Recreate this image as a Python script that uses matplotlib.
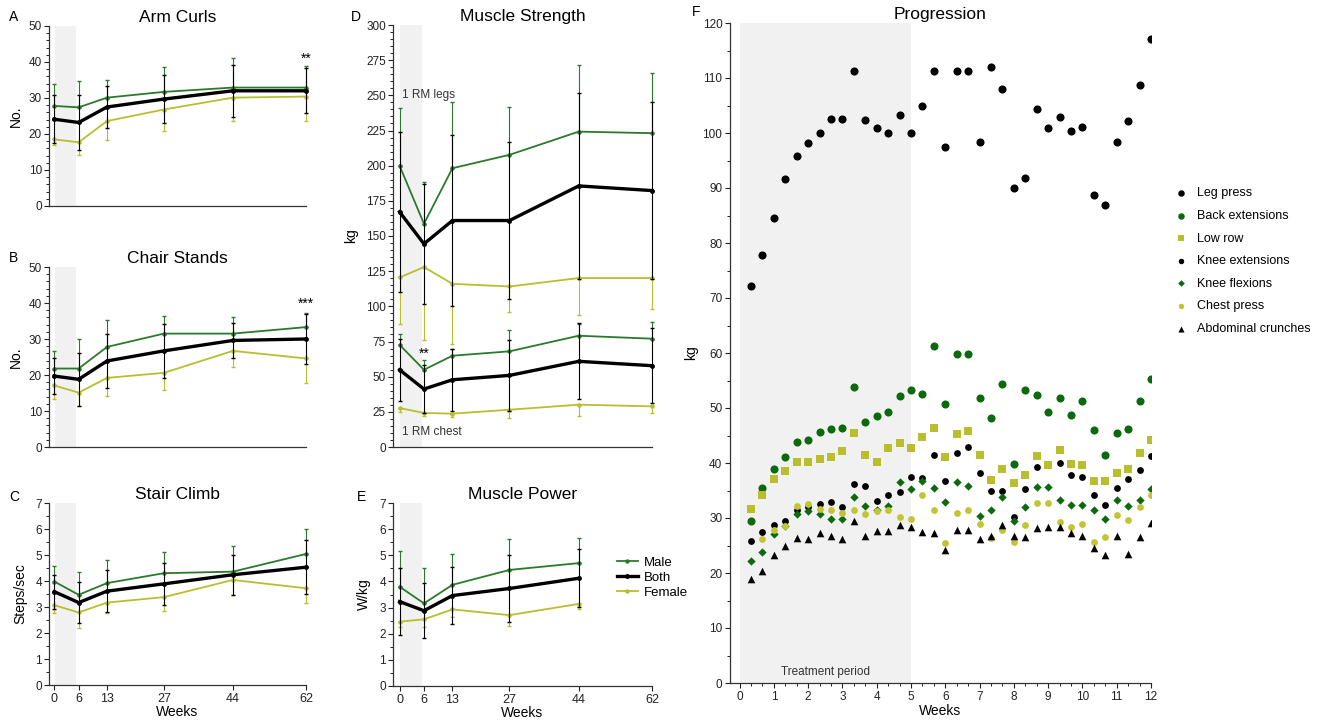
import numpy as np
import matplotlib.pyplot as plt
from matplotlib.lines import Line2D
from matplotlib.ticker import MultipleLocator

plt.rcParams['font.family'] = ['Liberation Sans', 'DejaVu Sans']

W, H = 1335, 723

GREEN = '#2b7a2b'
YELLOW = '#b9be2e'
DARK_GREEN = '#0b6a0b'
SHADE = '#f1f1f1'

WEEKS = [0, 6, 13, 27, 44, 62]
WEEK_LABELS = ['0', '6', '13', '27', '44', '62']

# A - arm curls (No.)
ARM_MALE = [27.8, 27.4, 30.1, 31.7, 32.9, 32.9]
ARM_MALE_SD = [6.2, 7.4, 4.9, 7.0, 8.3, 6.1]
ARM_BOTH = [24.1, 23.2, 27.5, 29.7, 32.0, 32.0]
ARM_BOTH_SD = [6.6, 7.6, 5.8, 6.7, 7.3, 6.3]
ARM_FEMALE = [18.5, 17.7, 23.6, 26.8, 30.1, 30.4]
ARM_FEMALE_SD = [1.6, 3.4, 5.3, 6.0, 6.4, 6.7]

# B - chair stands (No.)
CHAIR_MALE = [21.8, 21.8, 27.8, 31.5, 31.5, 33.3]
CHAIR_MALE_SD = [4.9, 8.3, 7.4, 5.0, 4.6, 4.0]
CHAIR_BOTH = [19.7, 18.8, 23.9, 26.7, 29.6, 30.0]
CHAIR_BOTH_SD = [5.0, 7.3, 7.6, 7.4, 4.9, 7.0]
CHAIR_FEMALE = [17.1, 15.1, 19.2, 20.6, 26.7, 24.6]
CHAIR_FEMALE_SD = [3.7, 3.8, 5.0, 4.9, 4.5, 6.8]

# C - stair climb (steps/sec)
STAIR_MALE = [3.98, 3.47, 3.92, 4.30, 4.36, 5.04]
STAIR_MALE_SD = [0.58, 0.87, 0.87, 0.81, 0.97, 0.95]
STAIR_BOTH = [3.59, 3.17, 3.61, 3.89, 4.24, 4.53]
STAIR_BOTH_SD = [0.65, 0.80, 0.80, 0.82, 0.77, 1.04]
STAIR_FEMALE = [3.07, 2.79, 3.17, 3.38, 4.04, 3.72]
STAIR_FEMALE_SD = [0.31, 0.58, 0.41, 0.53, 0.57, 0.58]

# D - muscle strength, 1 RM legs (kg)
LEGS_MALE = [200.1, 158.7, 198.2, 207.7, 224.2, 223.1]
LEGS_MALE_SD = [41.2, 30.0, 47.4, 34.3, 47.4, 43.1]
LEGS_BOTH = [167.2, 144.4, 161.0, 161.0, 185.6, 182.3]
LEGS_BOTH_SD = [57.0, 42.6, 61.0, 55.9, 66.0, 63.0]
LEGS_FEMALE = [120.5, 127.9, 116.0, 114.1, 120.1, 120.1]
LEGS_FEMALE_SD = [33.1, 52.1, 42.6, 18.2, 26.1, 22.1]

# D - muscle strength, 1 RM chest (kg)
CHEST_MALE = [72.7, 54.9, 64.9, 68.0, 79.1, 77.0]
CHEST_MALE_SD = [7.6, 6.7, 4.7, 15.4, 8.5, 11.8]
CHEST_BOTH = [54.9, 41.2, 47.8, 50.9, 60.9, 57.8]
CHEST_BOTH_SD = [22.0, 17.0, 22.0, 25.0, 27.0, 26.6]
CHEST_FEMALE = [27.7, 24.2, 23.7, 26.5, 30.1, 28.9]
CHEST_FEMALE_SD = [3.1, 2.4, 2.4, 5.9, 8.3, 4.7]

# E - muscle power (W/kg), measured up to week 44
POWER_WEEKS = [0, 6, 13, 27, 44]
POWER_MALE = [3.80, 3.16, 3.87, 4.44, 4.70]
POWER_MALE_SD = [1.37, 1.35, 1.19, 1.18, 0.98]
POWER_BOTH = [3.23, 2.88, 3.46, 3.73, 4.12]
POWER_BOTH_SD = [1.27, 1.06, 1.08, 1.27, 1.11]
POWER_FEMALE = [2.46, 2.55, 2.93, 2.71, 3.14]
POWER_FEMALE_SD = [0.20, 0.30, 0.30, 0.41, 0.20]

# F - progression (kg), sessions every 1/3 week
SESSIONS = np.arange(1, 37) / 3
LEG_PRESS = [72.1, 77.9, 84.5, 91.6, 95.9, 98.2, 100.0, 102.5, 102.5, 111.3,
             102.3, 101.0, 100.0, 103.3, 100.0, 105.0, 111.3, 97.5, 111.3,
             111.3, 98.3, 112.0, 108.0, 90.0, 91.9, 104.3, 101.0, 102.9,
             100.4, 101.1, 88.8, 87.0, 98.3, 102.2, 108.7, 117.1]
BACK_EXT = [29.5, 35.4, 38.9, 41.1, 43.9, 44.1, 45.7, 46.2, 46.4, 53.8,
            47.5, 48.6, 49.2, 52.1, 53.2, 52.5, 61.2, 50.7, 59.9, 59.9,
            51.8, 48.2, 54.4, 39.9, 53.2, 52.4, 49.2, 51.8, 48.7, 51.2,
            46.0, 41.5, 45.5, 46.2, 51.3, 55.3]
LOW_ROW = [31.7, 34.1, 37.1, 38.5, 40.2, 40.1, 40.8, 41.1, 42.1, 45.5,
           41.5, 40.2, 42.7, 43.7, 42.7, 44.7, 46.4, 41.1, 45.3, 45.8,
           41.5, 37.0, 39.0, 36.3, 37.9, 41.3, 39.6, 42.4, 39.9, 39.6,
           36.8, 36.8, 38.1, 39.0, 41.8, 44.1]
KNEE_EXT = [25.8, 27.5, 28.7, 29.5, 31.5, 32.0, 32.6, 33.0, 32.0, 36.2,
            35.8, 33.1, 34.2, 34.7, 37.4, 37.2, 41.4, 36.7, 41.9, 42.9,
            38.2, 34.9, 34.9, 30.2, 35.3, 39.2, np.nan, 40.0, 37.9, 37.4,
            34.1, 32.4, 35.4, 37.1, 38.7, 41.3]
KNEE_FLEX = [22.1, 23.8, 27.1, 28.5, 30.8, 31.2, 30.8, 29.9, 29.9, 33.9,
             32.1, 31.5, 32.2, 36.5, 35.2, 36.8, 35.4, 33.0, 36.5, 35.9,
             30.3, 31.5, 33.9, 29.5, 32.0, 35.6, 35.7, 33.3, 32.4, 32.4,
             31.5, 29.8, 33.3, 32.1, 33.3, 35.2]
CHEST_PRESS = [np.nan, 26.1, 27.8, 28.5, 32.1, 32.5, 31.7, 31.4, 30.9, 31.4,
               30.8, 31.2, 31.4, 30.2, 29.9, 34.1, 31.4, 25.5, 30.9, 31.4,
               29.0, 26.4, 27.8, 25.6, 28.8, 32.7, 32.8, 29.2, 28.4, 29.0,
               25.7, 26.6, 30.5, 29.6, 32.0, 34.1]
CRUNCHES = [18.9, 20.4, 23.2, 25.0, 26.4, 26.2, 27.2, 26.8, 26.2, 29.5,
            26.7, 27.6, 27.6, 28.7, 28.4, 27.5, 27.3, 24.2, 27.8, 27.8,
            26.1, 26.8, 28.8, 26.7, 26.5, 28.1, 28.3, 28.4, 27.3, 26.8,
            24.5, 23.3, 26.7, 23.5, 26.5, 29.1]


def px_axes(fig, left, top, right, bottom):
    """Add axes from a pixel box measured from the top left corner."""
    return fig.add_axes([left / W, 1 - bottom / H,
                         (right - left) / W, (bottom - top) / H])


def style_axes(ax, show_x):
    """Spines, ticks and the shaded treatment period for panels A-E."""
    for side in ('top', 'right'):
        ax.spines[side].set_visible(False)
    for side in ('left', 'bottom'):
        ax.spines[side].set_linewidth(0.9)
        ax.spines[side].set_color('#333333')
    ax.axvspan(0.2, 5.4, color=SHADE, zorder=0, lw=0)
    ax.tick_params(axis='y', labelsize=8.5, length=3.5, width=0.8,
                   pad=1.5, colors='#222222')
    ax.tick_params(axis='y', which='minor', length=2, width=0.6)
    if show_x:
        ax.set_xticks(WEEKS)
        ax.set_xticklabels(WEEK_LABELS)
        ax.tick_params(axis='x', labelsize=9, length=3.5, width=0.8,
                       pad=2, colors='#222222')
        ax.set_xlabel('Weeks', fontsize=10, labelpad=0)
    else:
        ax.set_xticks([])


def unclip(container):
    """Let error bars at the last week reach past the axes edge."""
    for child in container.get_children():
        child.set_clip_on(False)


def plot_group(ax, weeks, male, male_sd, both, both_sd, female, female_sd):
    """Male (bars up), female (bars down) and both (bars both ways)."""
    n = len(weeks)
    unclip(ax.errorbar(weeks, male, yerr=[[0] * n, male_sd], color=GREEN,
                       lw=1.3, marker='o', ms=2.2, elinewidth=0.8,
                       capsize=1.5, zorder=3))
    unclip(ax.errorbar(weeks, female, yerr=[female_sd, [0] * n],
                       color=YELLOW, lw=1.3, marker='o', ms=2.2,
                       elinewidth=0.8, capsize=1.5, zorder=3))
    unclip(ax.errorbar(weeks, both, yerr=both_sd, color='black', lw=2.4,
                       marker='o', ms=2.5, elinewidth=0.8, capsize=1.5,
                       zorder=4))


fig = plt.figure(figsize=(W / 100, H / 100), dpi=100)

# A
ax_a = px_axes(fig, 49, 26, 306, 206)
plot_group(ax_a, WEEKS, ARM_MALE, ARM_MALE_SD, ARM_BOTH, ARM_BOTH_SD,
           ARM_FEMALE, ARM_FEMALE_SD)
ax_a.set_xlim(-1.3, 62)
ax_a.set_ylim(0, 50)
ax_a.yaxis.set_major_locator(MultipleLocator(10))
ax_a.yaxis.set_minor_locator(MultipleLocator(2))
style_axes(ax_a, False)
ax_a.set_ylabel('No.', fontsize=10, labelpad=4)
ax_a.set_title('Arm Curls', fontsize=12.5, pad=3)
ax_a.text(62, 39, '**', ha='center', va='bottom', fontsize=10)

# B
ax_b = px_axes(fig, 49, 267, 306, 447)
plot_group(ax_b, WEEKS, CHAIR_MALE, CHAIR_MALE_SD, CHAIR_BOTH, CHAIR_BOTH_SD,
           CHAIR_FEMALE, CHAIR_FEMALE_SD)
ax_b.set_xlim(-1.3, 62)
ax_b.set_ylim(0, 50)
ax_b.yaxis.set_major_locator(MultipleLocator(10))
ax_b.yaxis.set_minor_locator(MultipleLocator(2))
style_axes(ax_b, False)
ax_b.set_ylabel('No.', fontsize=10, labelpad=4)
ax_b.set_title('Chair Stands', fontsize=12.5, pad=3)
ax_b.text(62, 37.8, '***', ha='center', va='bottom', fontsize=10)

# C
ax_c = px_axes(fig, 49, 503, 306, 685)
plot_group(ax_c, WEEKS, STAIR_MALE, STAIR_MALE_SD, STAIR_BOTH, STAIR_BOTH_SD,
           STAIR_FEMALE, STAIR_FEMALE_SD)
ax_c.set_xlim(-1.3, 62)
ax_c.set_ylim(0, 7)
ax_c.yaxis.set_major_locator(MultipleLocator(1))
ax_c.yaxis.set_minor_locator(MultipleLocator(0.5))
style_axes(ax_c, True)
ax_c.set_ylabel('Steps/sec', fontsize=10, labelpad=6)
ax_c.set_title('Stair Climb', fontsize=12.5, pad=3)

# D
ax_d = px_axes(fig, 393, 25, 652, 447)
plot_group(ax_d, WEEKS, LEGS_MALE, LEGS_MALE_SD, LEGS_BOTH, LEGS_BOTH_SD,
           LEGS_FEMALE, LEGS_FEMALE_SD)
plot_group(ax_d, WEEKS, CHEST_MALE, CHEST_MALE_SD, CHEST_BOTH, CHEST_BOTH_SD,
           CHEST_FEMALE, CHEST_FEMALE_SD)
ax_d.set_xlim(-1.6, 62)
ax_d.set_ylim(0, 300)
ax_d.yaxis.set_major_locator(MultipleLocator(25))
ax_d.yaxis.set_minor_locator(MultipleLocator(5))
style_axes(ax_d, False)
ax_d.set_ylabel('kg', fontsize=10, labelpad=6)
ax_d.set_title('Muscle Strength', fontsize=12.5, pad=3)
ax_d.text(0.5, 250, '1 RM legs', ha='left', va='center', fontsize=8.5,
          color='#333333')
ax_d.text(0.5, 11, '1 RM chest', ha='left', va='center', fontsize=8.5,
          color='#333333')
ax_d.text(6, 61, '**', ha='center', va='bottom', fontsize=10)

# E
ax_e = px_axes(fig, 393, 503, 652, 686)
plot_group(ax_e, POWER_WEEKS, POWER_MALE, POWER_MALE_SD, POWER_BOTH,
           POWER_BOTH_SD, POWER_FEMALE, POWER_FEMALE_SD)
ax_e.set_xlim(-1.6, 62)
ax_e.set_ylim(0, 7)
ax_e.yaxis.set_major_locator(MultipleLocator(1))
ax_e.yaxis.set_minor_locator(MultipleLocator(0.5))
style_axes(ax_e, True)
ax_e.set_ylabel('W/kg', fontsize=10, labelpad=6)
ax_e.set_title('Muscle Power', fontsize=12.5, pad=3)
group_handles = [
    Line2D([], [], color=GREEN, lw=1.3, marker='o', ms=2.2),
    Line2D([], [], color='black', lw=2.4, marker='o', ms=2.5),
    Line2D([], [], color=YELLOW, lw=1.3, marker='o', ms=2.2),
]
ax_e.legend(group_handles, ['Male', 'Both', 'Female'],
            loc='upper left', bbox_to_anchor=(610 / W, 1 - 550 / H),
            bbox_transform=fig.transFigure, frameon=False, fontsize=9.5,
            handlelength=1.6, handletextpad=0.5, labelspacing=0.2,
            borderpad=0)

# F
ax_f = px_axes(fig, 730, 23, 1151, 683)
ax_f.axvspan(0, 5, color=SHADE, zorder=0, lw=0)
ax_f.scatter(SESSIONS, LEG_PRESS, s=34, color='black', label='Leg press',
             zorder=3, lw=0)
ax_f.scatter(SESSIONS, BACK_EXT, s=34, color=DARK_GREEN,
             label='Back extensions', zorder=3, lw=0)
ax_f.scatter(SESSIONS, LOW_ROW, s=34, marker='s', color=YELLOW,
             label='Low row', zorder=3, lw=0)
ax_f.scatter(SESSIONS, KNEE_EXT, s=24, color='black',
             label='Knee extensions', zorder=3, lw=0)
ax_f.scatter(SESSIONS, KNEE_FLEX, s=18, marker='D', color=DARK_GREEN,
             label='Knee flexions', zorder=3, lw=0)
ax_f.scatter(SESSIONS, CHEST_PRESS, s=24, color='#c2c433',
             label='Chest press', zorder=3, lw=0)
ax_f.scatter(SESSIONS, CRUNCHES, s=30, marker='^', color='black',
             label='Abdominal crunches', zorder=3, lw=0)
ax_f.set_xlim(-0.28, 12)
ax_f.set_ylim(0, 120)
ax_f.xaxis.set_major_locator(MultipleLocator(1))
ax_f.xaxis.set_minor_locator(MultipleLocator(1 / 3))
ax_f.yaxis.set_major_locator(MultipleLocator(10))
ax_f.yaxis.set_minor_locator(MultipleLocator(5))
for side in ('top', 'right'):
    ax_f.spines[side].set_visible(False)
for side in ('left', 'bottom'):
    ax_f.spines[side].set_linewidth(0.9)
    ax_f.spines[side].set_color('#333333')
ax_f.tick_params(labelsize=8.5, length=3.5, width=0.8, pad=2,
                 colors='#222222')
ax_f.tick_params(which='minor', length=2, width=0.6)
ax_f.set_xlabel('Weeks', fontsize=10, labelpad=1)
ax_f.set_ylabel('kg', fontsize=10, labelpad=3)
ax_f.set_title('Progression', fontsize=12.5, pad=3)
ax_f.text(2.5, 2, 'Treatment period', ha='center', va='center', fontsize=8.5,
          color='#333333')
ax_f.legend(loc='upper left', bbox_to_anchor=(1168 / W, 1 - 181 / H),
            bbox_transform=fig.transFigure, frameon=False, fontsize=9,
            markerscale=0.8, handlelength=1, handletextpad=0.8,
            labelspacing=0.85, borderpad=0, scatterpoints=1)

# Panel letters
for letter, (x, y) in {'A': (9, 17), 'B': (9, 258), 'C': (9, 497),
                       'D': (351, 17), 'E': (357, 497),
                       'F': (692, 12)}.items():
    fig.text(x / W, 1 - y / H, letter, fontsize=10, ha='left', va='center')

fig.savefig('out.png', dpi=100)
